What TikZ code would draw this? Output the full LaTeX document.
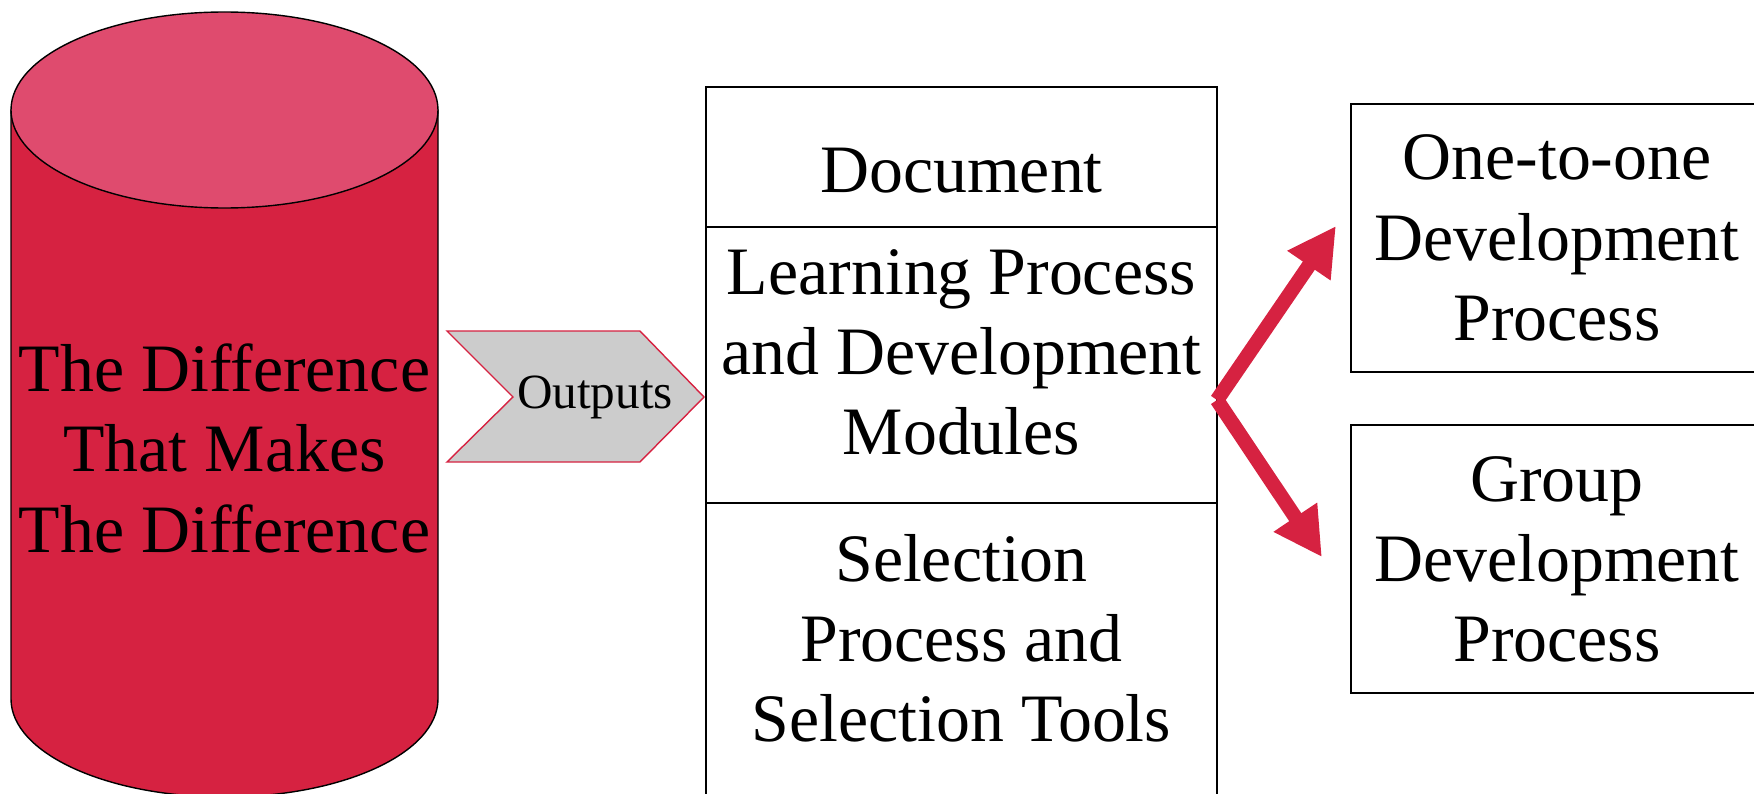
\documentclass[tikz,border=0pt]{standalone}
\usepackage{fontspec}
\setmainfont{Liberation Serif}
\usetikzlibrary{positioning,arrows.meta}
\definecolor{cylred}{RGB}{214,34,65}
\definecolor{cyltop}{RGB}{223,75,110}
\begin{document}
\begin{tikzpicture}[node distance =0mm,line width =0.4pt]
  \tikzstyle{big}=[font=\fontsize{19.3}{22.8}\selectfont,align=center,inner sep=0pt]
  \tikzstyle{midbox}=[big,draw,line width =0.6pt,outer sep=0pt,minimum width =51.1mm]
  \tikzstyle{sidebox}=[big,draw,line width =0.6pt,minimum width =41.2mm,minimum height =26.8mm]
  \tikzstyle{outarrow}=[cylred,line width =1.45mm,-{Triangle[length=4.8mm,width=4.9mm]}]
  \useasboundingbox (0,0) rectangle (17.54,7.93);
  \filldraw[fill=cylred] (0.11,6.83) -- (0.11,0.94)
     arc[start angle=180,end angle=360,x radius=2.135,y radius=0.98]
     -- (4.38,6.83) -- cycle;
  \filldraw[fill=cyltop] (2.245,6.83) ellipse [x radius=2.135,y radius=0.98];
  \node[big] (cyl) at (2.245,3.42)
       {The Difference\\That Makes\\The Difference\rule[-0.6mm]{0pt}{0.6mm}};
  \filldraw[fill=black!20,draw=cylred] (4.47,4.62) -- (6.40,4.62) -- (7.04,3.96)
     -- (6.40,3.31) -- (4.47,3.31) -- (5.13,3.96) -- cycle;
  \node[font=\fontsize{14}{17}\selectfont,inner sep=0pt] (outs) at (5.95,3.96) {Outputs};
  \node[midbox,minimum height =14mm,text height =7.1mm,text depth =0pt] (doc)
       at (9.615,6.36) {Document};
  \node[midbox,minimum height =27.6mm,below=of doc] (learn)
       {Learning Process\\and Development\\Modules\rule[-2.6mm]{0pt}{2.6mm}};
  \node[big,minimum width =51.1mm,minimum height =28mm,outer sep=0pt,below=of learn] (sel)
       {Selection\\Process and\\Selection Tools\rule[-1mm]{0pt}{1mm}};
  \draw[line width =0.6pt] (sel.north west) -- ++(0,-3)
                           (sel.north east) -- ++(0,-3);
  \node[sidebox] (one) at (15.57,5.55) {One-to-one\\Development\\Process};
  \node[sidebox,below=5.1mm of one] (group) {Group\\Development\\Process};
  \coordinate (fork) at ([yshift=-3.5mm]learn.east);
  \coordinate (tipA) at ([xshift=-1.4mm,yshift=1.2mm]one.west);
  \coordinate (tipB) at ([xshift=-2.8mm,yshift=0.2mm]group.west);
  \draw[outarrow] (fork) -- (tipA);
  \draw[outarrow] (fork) -- (tipB);
\end{tikzpicture}
\end{document}
